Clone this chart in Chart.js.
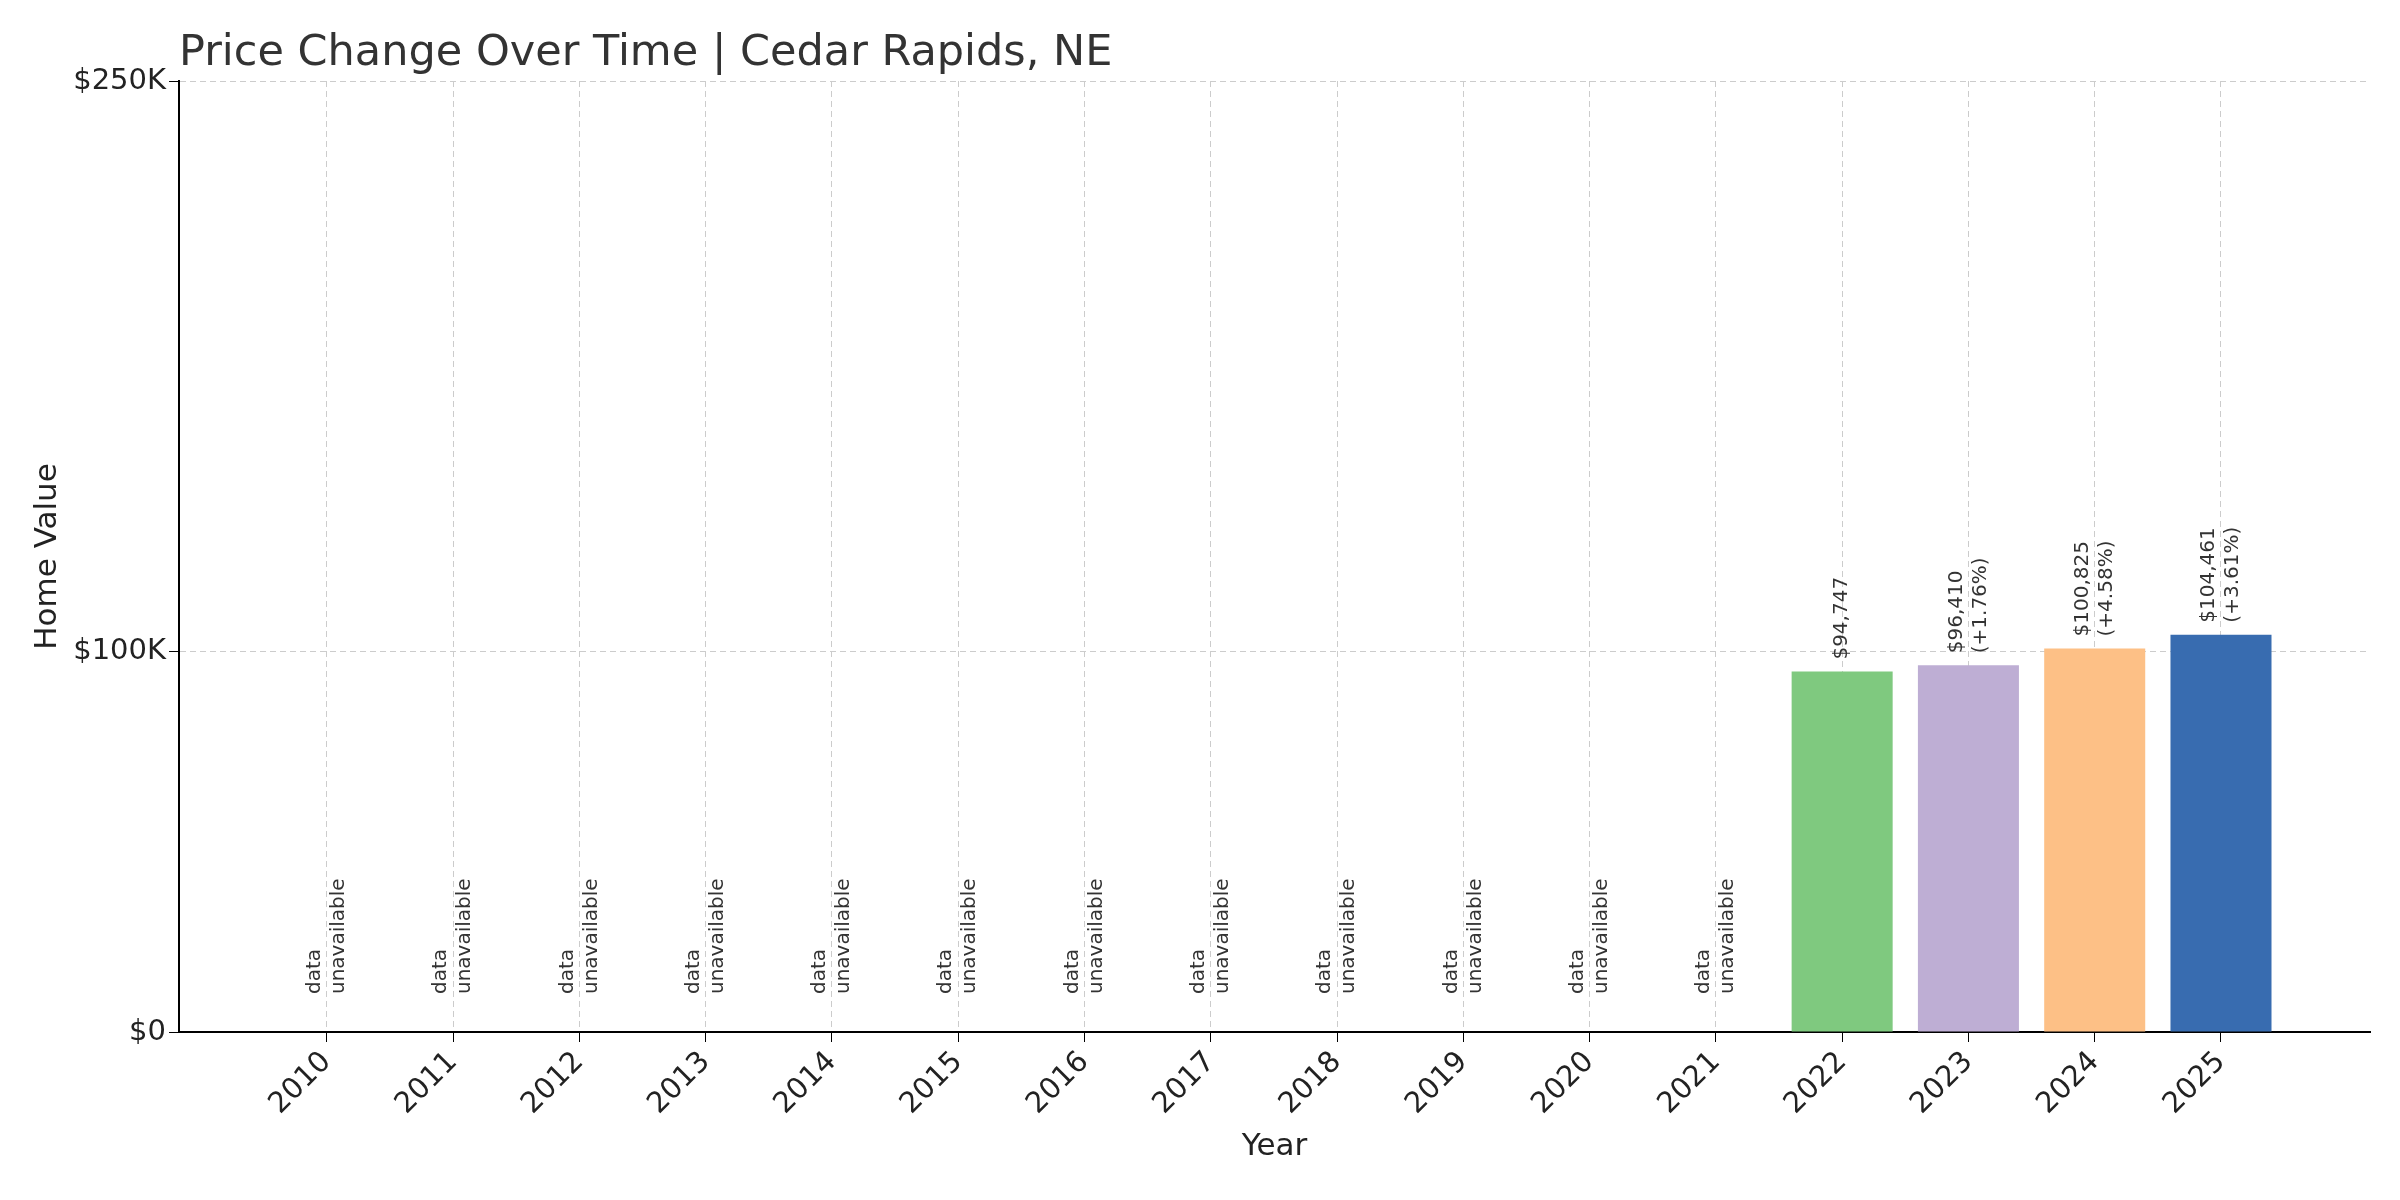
<!DOCTYPE html>
<html><head><meta charset="utf-8">
<script src="https://cdn.jsdelivr.net/npm/chart.js@4"></script>
<style>html,body{margin:0;padding:0;background:#fff}#w{width:2400px;height:1200px}</style>
</head><body><div id="w"><canvas id="c"></canvas></div>
<script>
const years = [2010,2011,2012,2013,2014,2015,2016,2017,2018,2019,2020,2021,2022,2023,2024,2025];
const values = [null,null,null,null,null,null,null,null,null,null,null,null,94747,96410,100825,104461];
const changes = [null,null,null,null,null,null,null,null,null,null,null,null,null,"+1.76%","+4.58%","+3.61%"];
const barColors = ["#7fc97f","#beaed4","#fdc086","#386cb0"];
const yTicks = [0,100000,250000];
const yTickLabels = {0:"$0",100000:"$100K",250000:"$250K"};
const titleText = "Price Change Over Time | Cedar Rapids, NE";

const font = "DejaVu Sans";
const annot = {
  id:'annot',
  afterDatasetsDraw(chart){
    const ctx = chart.ctx, xs = chart.scales.x, ys = chart.scales.y;
    ctx.save();
    ctx.fillStyle = '#333';
    ctx.font = `43px "${font}"`;
    ctx.textAlign = 'left'; ctx.textBaseline = 'bottom';
    ctx.fillText(titleText, chart.chartArea.left, chart.chartArea.top - 6);
    ctx.font = `20px "${font}"`;
    ctx.textBaseline = 'middle';
    years.forEach((yr,i)=>{
      const x = xs.getPixelForValue(yr);
      let lines, yb;
      if (values[i] == null) { lines = ["data","unavailable"]; yb = ys.getPixelForValue(0) - 38; }
      else {
        lines = ["$" + values[i].toLocaleString("en-US")];
        if (changes[i]) lines.push("(" + changes[i] + ")");
        yb = ys.getPixelForValue(values[i]) - 12;
      }
      const lh = 24, n = lines.length;
      lines.forEach((t,k)=>{
        ctx.save();
        ctx.translate(x + (k - (n-1)/2) * lh, yb);
        ctx.rotate(-Math.PI/2);
        ctx.fillText(t,0,0);
        ctx.restore();
      });
    });
    ctx.restore();
  }
};

new Chart(document.getElementById('c'),{
  type:'bar',
  data:{datasets:[{
    data: years.map((y,i)=>({x:y,y:values[i]})).filter(d=>d.y!=null),
    backgroundColor: barColors,
    barPercentage:0.8, categoryPercentage:1
  }]},
  options:{
    responsive:true, maintainAspectRatio:false, animation:false,
    layout:{padding:{left:25,right:30,top:81,bottom:30}},
    plugins:{legend:{display:false}, tooltip:{enabled:false}, title:{display:false}},
    scales:{
      x:{type:'linear',min:2008.83,max:2026.18,offset:false,
        afterBuildTicks(s){s.ticks=years.map(v=>({value:v}));},
        ticks:{autoSkip:false,minRotation:45,maxRotation:45,color:'#222',font:{family:font,size:29},callback:v=>String(v)},
        grid:{offset:false,color:'#ccc',drawTicks:true,tickColor:'#000',tickLength:10},
        border:{color:'#000',width:2,dash:[6,4]},
        title:{display:true,text:'Year',color:'#222',font:{family:font,size:31}}
      },
      y:{min:0,max:250000,
        afterBuildTicks(s){s.ticks=yTicks.map(v=>({value:v}));},
        ticks:{color:'#222',font:{family:font,size:29},callback:v=>yTickLabels[v]},
        grid:{color:'#ccc',tickColor:'#000',tickLength:10},
        border:{color:'#000',width:2,dash:[6,4]},
        title:{display:true,text:'Home Value',color:'#222',font:{family:font,size:31}}
      }
    }
  },
  plugins:[annot]
});
</script></body></html>
